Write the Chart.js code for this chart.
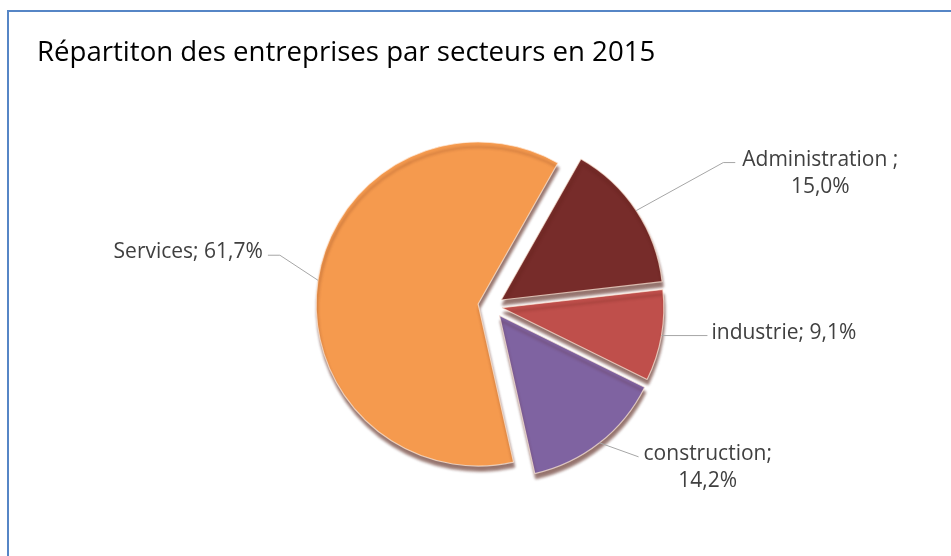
<!DOCTYPE html>
<html>
<head>
<meta charset="utf-8">
<script src="https://cdn.jsdelivr.net/npm/chart.js@4/dist/chart.umd.min.js"></script>
<style>
  html, body { margin: 0; padding: 0; background: #fff; }
  #wrap { position: relative; width: 951px; height: 556px; overflow: hidden; }
  #frame { position: absolute; left: 7px; top: 10px; right: -4px; bottom: -4px;
           border-top: 2px solid #5686c6; border-left: 2px solid #5686c6; }
  #chart { position: absolute; left: 0; top: 0; }
</style>
</head>
<body>
<div id="wrap">
  <div id="frame"></div>
  <canvas id="chart" width="951" height="556"></canvas>
</div>
<script>
// Données du graphique
const categories = ['Administration', 'industrie', 'construction', 'Services'];
const shares = [15.0, 9.1, 14.2, 61.7];           // en %
const separators = [' ;\n', '; ', ';\n', '; ']; // texte des étiquettes
const colors = ['#772c2a', '#bf4f4b', '#7f63a1', '#f59a4e'];

// Éclatement des parts (px) et placement des étiquettes
const sliceShift = [11, 10, 12, 14];
const labelLayout = [
  { elbow: [87, -48], run: 12, gap: 7, side: 1 },
  { elbow: [0, 0], run: 46, gap: 4, side: 1 },
  { elbow: [39, 14], run: 0, gap: 5, side: 1 },
  { elbow: [-38, -25], run: 12, gap: 5, side: -1 }
];

const fmt = v => v.toFixed(1).replace('.', ',') + '%';
const labelText = categories.map((c, i) => (c + separators[i] + fmt(shares[i])).split('\n'));

// Parts éclatées : simple translation + ombre (effet relief)
Chart.defaults.elements.arc.shift = 0;
const baseArcDraw = Chart.ArcElement.prototype.draw;
Chart.ArcElement.prototype.draw = function (ctx) {
  const s = this.options.shift || 0;
  const mid = (this.startAngle + this.endAngle) / 2;
  ctx.save();
  ctx.translate(Math.cos(mid) * s, Math.sin(mid) * s);
  ctx.shadowColor = 'rgba(80, 25, 15, 0.6)';
  ctx.shadowBlur = 3;
  ctx.shadowOffsetX = 1;
  ctx.shadowOffsetY = 5;
  baseArcDraw.call(this, ctx);
  ctx.restore();
};

const pieLabels = {
  id: 'pieLabels',
  afterDatasetsDraw(chart) {
    const ctx = chart.ctx;
    const arcs = chart.getDatasetMeta(0).data;
    ctx.save();
    ctx.font = '21px "Open Sans"';
    ctx.fillStyle = '#404040';
    ctx.strokeStyle = '#a6a6a6';
    ctx.lineWidth = 1;
    arcs.forEach((arc, i) => {
      const mid = (arc.startAngle + arc.endAngle) / 2;
      const d = sliceShift[i] + arc.outerRadius;
      const ax = arc.x + Math.cos(mid) * d;
      const ay = arc.y + Math.sin(mid) * d;
      const L = labelLayout[i];
      const ex = ax + L.elbow[0], ey = ay + L.elbow[1];
      const fx = ex + L.side * L.run;
      ctx.beginPath();
      ctx.moveTo(ax, ay);
      ctx.lineTo(ex, ey);
      ctx.lineTo(fx, ey);
      ctx.stroke();
      const lines = labelText[i];
      const w = Math.max(...lines.map(t => ctx.measureText(t).width));
      const cx = L.side > 0 ? fx + L.gap + w / 2 : fx - L.gap - w / 2;
      ctx.textAlign = 'center';
      ctx.textBaseline = 'alphabetic';
      lines.forEach((t, k) => ctx.fillText(t, cx, ey + 3 + k * 27));
    });
    ctx.restore();
  }
};

new Chart(document.getElementById('chart'), {
  type: 'pie',
  data: {
    labels: categories,
    datasets: [{
      data: shares,
      backgroundColor: colors,
      borderColor: 'rgba(255, 235, 220, 0.7)',
      borderWidth: 1.2,
      shift: sliceShift,
      hoverOffset: 0
    }]
  },
  options: {
    responsive: false,
    animation: false,
    events: [],
    rotation: 29.5,
    radius: 162,
    layout: { padding: { left: 37, right: 4, top: 0, bottom: 14 } },
    plugins: {
      legend: { display: false },
      tooltip: { enabled: false },
      title: {
        display: true,
        text: 'Répartiton des entreprises par secteurs en 2015',
        align: 'start',
        color: '#000',
        font: { family: 'Open Sans', size: 27.6, weight: 'normal' },
        padding: { top: 37, bottom: 0 }
      }
    }
  },
  plugins: [pieLabels]
});
</script>
</body>
</html>
